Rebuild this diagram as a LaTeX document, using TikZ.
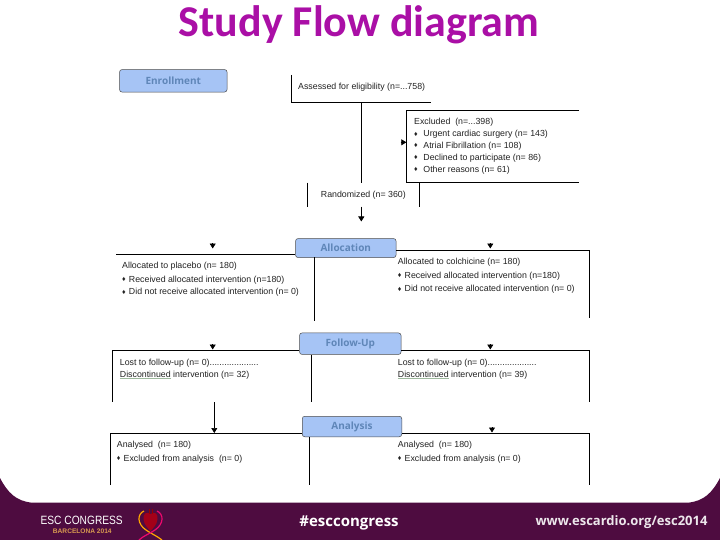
\documentclass[tikz,border=0pt]{standalone}
\usepackage{fontspec}
\setmainfont{Liberation Sans}
\newfontfamily\titlefont{Carlito}
\newfontfamily\headfont{Open Sans}
\usetikzlibrary{arrows.meta}
\definecolor{titlec}{HTML}{AA0FA6}
\definecolor{phasefill}{HTML}{A6C4F5}
\definecolor{phasetext}{HTML}{5F86B8}
\definecolor{footc}{HTML}{4E0C40}
\definecolor{txt}{HTML}{222222}
\definecolor{squig}{HTML}{9DB89D}
\definecolor{barca}{HTML}{D89A50}
\newcommand\squigu[1]{\setbox0\hbox{#1}\leavevmode\rlap{\color{squig}\rule[-1.3pt]{\wd0}{0.5pt}}#1}
\newcommand\bull{\raisebox{.5pt}{\fontsize{7}{7}\selectfont♦}\hspace{3.2pt}}
\tikzset{
  x=1pt,y=-1pt,
  lab/.style={anchor=west,inner sep=0pt,yshift=-1pt,font=\fontsize{8.8}{10}\selectfont,text=txt},
  phase/.style={draw=black!70,line width=.5pt,fill=phasefill,rounded corners=2.5pt,inner sep=0pt,
    font=\headfont\bfseries\fontsize{10}{11}\selectfont,text=phasetext},
  ln/.style={draw=black,line width=.7pt},
  arr/.style={ln,-{Triangle[length=5pt,width=6pt]}},
}
\begin{document}
\begin{tikzpicture}
\useasboundingbox (0,0) rectangle (720,540);
\fill[white] (0,0) rectangle (720,540);
% footer
\fill[footc] (0,478) .. controls (8,493) and (16,501) .. (32,502.7) -- (688,502.7)
  .. controls (704,501) and (712,493) .. (720,478) -- (720,540) -- (0,540) -- cycle;
% title
\node[font=\titlefont\bfseries\fontsize{44}{48}\selectfont,text=titlec,inner sep=0pt] (title) at (359,25) {Study Flow diagram};

% coordinates
\coordinate (aTL) at (291.3,75);   \coordinate (aBL) at (291.3,102.3);
\coordinate (aBR) at (430.7,102.3); \coordinate (aB) at (361.3,102.3);
\coordinate (aE) at (361.3,182.7);
\coordinate (eTL) at (406.3,110.7); \coordinate (eTR) at (579,110.7);
\coordinate (eBL) at (406.3,182.3); \coordinate (eBR) at (579,182.3);
\coordinate (eL) at (406.3,142.3); \coordinate (eLs) at (400.5,142.3);
\coordinate (rAT) at (307.3,182.7); \coordinate (rAB) at (307.3,206.7);
\coordinate (rBT) at (419.3,182.7); \coordinate (rBB) at (419.3,206.7);
\coordinate (rO) at (361.3,206.7);  \coordinate (rI) at (361.3,221.5);

% phases
\node[phase,minimum width=107.5pt,minimum height=22.5pt,anchor=north west] (enr) at (119.3,69.3) {Enrollment};
\node[phase,minimum width=100.5pt,minimum height=19pt,anchor=north west] (alc) at (295.3,238.3) {Allocation};
\node[phase,minimum width=101.5pt,minimum height=21.5pt,anchor=north west] (fol) at (299.3,332.7) {Follow-Up};
\node[phase,minimum width=99.5pt,minimum height=20.5pt,anchor=north west] (ana) at (302,416) {Analysis};

% enrollment lines
\draw[ln] (aTL) -- (aBL) -- (aBR);
\draw[ln] (aB) -- (aE);
\draw[ln] (eTR) -- (eTL) -- (eBL) -- (eBR);
\draw[ln] (rAT) -- (rAB);
\draw[ln] (rBT) -- (rBB);
\draw[arr] (eLs) -- (eL);
\draw[arr] (rO) -- (rI);

% allocation lines
\coordinate (b1L) at (116,254.3);
\coordinate (b1C) at (314.3,257.3); \coordinate (b1CB) at (314.3,320.7);
\coordinate (b1R) at (589.7,250.3); \coordinate (b1RB) at (589.7,317.7);
\coordinate (b1Ra) at (395.8,250.3);
\coordinate (b1La) at (295.3,254.3);
\draw[ln] (b1L) -- (b1La);
\draw[ln] (b1Ra) -- (b1R) -- (b1RB);
\draw[ln] (b1C) -- (b1CB);
\coordinate (a1s) at (212.7,243); \coordinate (a1e) at (212.7,248.5);
\coordinate (a2s) at (490.3,243); \coordinate (a2e) at (490.3,248.5);
\draw[arr] (a1s) -- (a1e);
\draw[arr] (a2s) -- (a2e);

% follow-up lines
\coordinate (b2L) at (112.3,350.7); \coordinate (b2LB) at (112.3,401.7);
\coordinate (b2R) at (589.7,350.7); \coordinate (b2RB) at (589.7,401.7);
\coordinate (b2C) at (311.3,350.7); \coordinate (b2CB) at (311.3,401.7);
\draw[ln] (b2LB) -- (b2L) -- (fol.west |- b2L);
\draw[ln] (fol.east |- b2R) -- (b2R) -- (b2RB);
\draw[ln] (b2C |- fol.south) -- (b2CB);
\coordinate (a3s) at (212.7,344); \coordinate (a3e) at (212.7,349.5);
\coordinate (a4s) at (490.3,344); \coordinate (a4e) at (490.3,349.5);
\draw[arr] (a3s) -- (a3e);
\draw[arr] (a4s) -- (a4e);

% analysis lines
\coordinate (b3L) at (110.3,433.3); \coordinate (b3LB) at (110.3,485);
\coordinate (b3R) at (589.7,433.3); \coordinate (b3RB) at (589.7,485);
\coordinate (b3C) at (309.3,433.3); \coordinate (b3CB) at (309.3,485);
\draw[ln] (b3LB) -- (b3L) -- (ana.west |- b3L);
\draw[ln] (ana.east |- b3R) -- (b3R) -- (b3RB);
\draw[ln] (b3C |- ana.south) -- (b3CB);
\coordinate (a5s) at (214.3,402); \coordinate (a5e) at (214.3,433);
\coordinate (a6s) at (492,427); \coordinate (a6e) at (492,432.5);
\draw[arr] (a5s) -- (a5e);
\draw[arr] (a6s) -- (a6e);

% texts
\node[lab] (t1) at (298,86.7) {Assessed for eligibility (n=...758)};
\node[lab] (t2) at (414,121.7) {Excluded\ \ (n=...398)};
\node[lab] (t3) at (414,133.5) {\bull\ Urgent cardiac surgery (n= 143)};
\node[lab] (t4) at (414,145.2) {\bull\ Atrial Fibrillation (n= 108)};
\node[lab] (t5) at (414,157) {\bull\ Declined to participate (n= 86)};
\node[lab] (t6) at (414,169) {\bull\ Other reasons (n= 61)};
\node[lab] (t7) at (320.7,194) {Randomized (n= 360)};
\node[lab] (t8) at (122,265.5) {Allocated to placebo (n= 180)};
\node[lab] (t9) at (122,279) {\bull Received allocated intervention (n=180)};
\node[lab] (t10) at (122,291.5) {\bull Did not receive allocated intervention (n= 0)};
\node[lab] (t11) at (397.7,261.7) {Allocated to colchicine (n= 180)};
\node[lab] (t12) at (397.7,275) {\bull Received allocated intervention (n=180)};
\node[lab] (t13) at (397.7,288.3) {\bull Did not receive allocated intervention (n= 0)};
\node[lab] (t14) at (119.7,362.5) {Lost to follow-up (n= 0)....................};
\node[lab] (t15) at (119.7,374) {\squigu{Discontinued} intervention (n= 32)};
\node[lab] (t16) at (397.7,362.5) {Lost to follow-up (n= 0)....................};
\node[lab] (t17) at (397.7,374) {\squigu{Discontinued} intervention (n= 39)};
\node[lab] (t18) at (116.7,444.5) {Analysed\ \ (n= 180)};
\node[lab] (t19) at (116.7,458) {\bull Excluded from analysis\ \ (n= 0)};
\node[lab] (t20) at (397.7,444.5) {Analysed\ \ (n= 180)};
\node[lab] (t21) at (397.7,458) {\bull Excluded from analysis (n= 0)};

% footer texts
\node[inner sep=0pt,text=white,font=\fontsize{12}{14}\selectfont] (f1) at (81.7,520.3) {\scalebox{.85}[1]{ESC CONGRESS}};
\node[inner sep=0pt,text=barca,font=\bfseries\fontsize{6.6}{7}\selectfont] (f2) at (82.3,531) {BARCELONA 2014};
\node[inner sep=0pt,text=white,font=\headfont\bfseries\fontsize{15}{17}\selectfont] (f3) at (349,523) {\#esccongress};
\node[inner sep=0pt,text=white!90!footc,font=\headfont\bfseries\fontsize{13}{15}\selectfont] (f4) at (621.5,522.5) {www.escardio.org/esc2014};
% logo
\fill[red!60!black!90!magenta] (150.5,514) .. controls (146,511) and (143,514) .. (143.5,519) .. controls (144,525) and (148,528) .. (150.5,531)
  .. controls (153,528) and (157,525) .. (157.5,519) .. controls (158,514) and (155,511) .. (150.5,514) -- cycle;
\draw[red!60!black,line width=.8pt] (149,508.5) -- (149,514) (152,508.5) -- (152,514);
\draw[orange!70!yellow,line width=1.2pt] (144,511) .. controls (137,514) and (137,524) .. (146,530) .. controls (150,533) and (157,536) .. (162,540);
\draw[magenta!70!red,line width=1.2pt] (157,511) .. controls (164,514) and (164,524) .. (155,530) .. controls (151,533) and (143,536) .. (139,540);
\end{tikzpicture}
\end{document}
